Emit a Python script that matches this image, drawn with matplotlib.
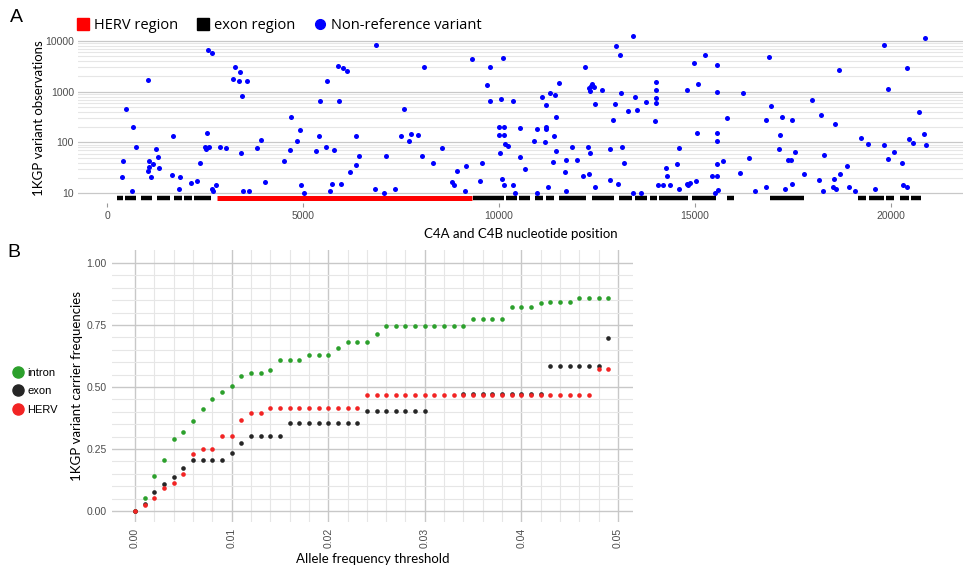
import numpy as np
import matplotlib
matplotlib.use("Agg")
import matplotlib.pyplot as plt
from matplotlib.patches import Patch
from matplotlib.lines import Line2D
from matplotlib.ticker import FixedLocator, NullFormatter

# ---- panel A data ----
herv_region = (2806, 9311)
exon_regions = [(247, 416), (459, 740), (859, 1156), (1267, 1607), (1717, 1921),
                (1972, 2176), (2219, 2644), (9324, 10124), (10175, 10463),
                (10514, 10787), (10914, 11126), (11211, 11398), (11534, 12223),
                (12376, 12937), (13072, 13405), (13464, 13763), (13847, 14018),
                (14085, 14825), (14934, 15530), (15818, 15989), (16925, 17783),
                (19158, 19371), (19431, 19814), (19882, 20077), (20222, 20460),
                (20502, 20757)]

var_pos = [2584, 2671, 3258, 3380, 1054, 3214, 3367, 3579, 477, 671, 1676, 2559, 747,
           1258, 2508, 2525, 2610, 2890, 3043, 400, 1301, 1079, 1181, 1079, 1038, 1319,
           2372, 390, 1122, 1658, 1862, 2150, 2296, 645, 1829, 2671, 2696, 2788, 3418,
           5901, 6013, 6115, 5620, 3436, 5426, 5926, 4686, 4916, 5416, 6352, 3929, 4839,
           3834, 4676, 5587, 5791, 5339, 6429, 4515, 6360, 6199, 4031, 4957, 5732, 5969,
           3477, 3615, 5018, 5681,
           6862, 9304, 10110, 8087, 9763, 9702, 9778, 10051, 7584, 10000, 10120, 10000,
           10135, 7492, 7763, 7926, 7712, 8554, 10153, 10222, 7110, 8028, 10018, 8324,
           9158, 9566, 8936, 10069, 8809, 8860, 9508, 10127, 6845, 7074, 7347, 9125,
           13426, 12977, 13079, 12194, 11538, 12380, 12347, 12303, 12314, 12416, 12635,
           11309, 11421, 13105, 11105, 13477, 10349, 11199, 12441, 12959, 13750, 13298,
           13513, 11454, 12916, 10543, 10969, 11199, 11191, 11411, 10893, 11181, 11862,
           12278, 13130, 12824, 11462, 12314, 10543, 11701, 11385, 11997, 13197, 10655,
           11676, 12296, 12150, 12839, 13028, 10357, 11242, 12449, 10416, 10977, 11717,
           13426, 13630,
           15263, 14982, 15569, 16895, 14013, 15069, 13997, 14788, 15561, 16224, 13997,
           14005, 16946, 15809, 16811, 13972, 15051, 15569, 15569, 14592, 17135, 16370,
           15714, 14533, 15561, 14252, 16148, 14293, 15434, 15569, 15018, 14788, 14880,
           14829, 14064, 14184, 14370, 14592, 16811, 16530, 15587, 15518,
           20860, 19814, 18681, 20400, 19931, 17985, 20722, 17212, 17474, 18214, 18571,
           17176, 20834, 19227, 20467, 20561, 19405, 19814, 20900, 17543, 20069, 18298,
           17380, 17449, 19923, 20280, 18885, 17773, 18699, 18163, 18553, 17474, 17296,
           18528, 18589, 18928, 19081, 18273, 19599, 20306, 20416]
var_obs = [6620, 5700, 3020, 2465, 1700, 1755, 1625, 1625, 462, 202, 132, 154, 80.5,
           73.5, 80.5, 75.5, 80.5, 82.7, 76.9, 42.7, 51.1, 43.8, 37.2, 33.4, 27.9, 31.9,
           39, 20.7, 20.7, 22.6, 20.7, 16.2, 17.5, 11.2, 12.3, 12.3, 11.2, 14.4, 63,
           3250, 2970, 2520, 1625, 811, 665, 647, 313, 179, 134, 134, 110, 107,
           79, 72.1, 81.5, 70.2, 68, 55, 43.2, 35.6, 26.6, 16.5, 14.4, 15.5, 15.5,
           11.2, 11.2, 10.1, 11.1,
           8300, 4345, 4670, 3020, 3020, 1355, 665, 718, 456, 202, 199, 139,
           139, 136, 149, 139, 108, 78, 94.7, 86.5, 53.5, 55, 62.1, 40,
           34, 40, 27.9, 19.4, 16.5, 14.4, 17.5, 14.4, 12.3, 10.3, 12.3, 11.2,
           12650, 7830, 5350, 3065, 1463, 1400, 1295, 1167, 1047, 1222, 1080,
           930, 861, 943, 797, 776, 656, 555, 565, 565, 619, 417,
           442, 318, 277, 193, 187, 199, 182, 136, 106, 102, 81.5,
           82.7, 80.5, 74.5, 67.1, 61.3, 51.8, 45.8, 41.9, 45.8, 40, 29.7,
           26.6, 23.7, 21.6, 18.5, 15.5, 14.4, 13.3, 13.3, 10.1, 10.1, 11.2,
           10.1, 10.1,
           5350, 3720, 3400, 4755, 1531, 1418, 1080, 1095, 973, 955, 752,
           600, 516, 304, 281, 269, 152, 156, 108, 79, 74.5, 48.9,
           43.8, 37.7, 37.7, 31.9, 24.8, 21.6, 22.2, 22.2, 17.5, 15.5, 16.2,
           14.4, 14.4, 14.4, 14.4, 12.2, 13.3, 11.2, 11.5, 10.1,
           11250, 8190, 2710, 2890, 1115, 696, 398, 313, 274, 343, 228,
           139, 149, 124, 116, 99, 92.2, 90.5, 90.5, 65, 64.1, 56,
           45.3, 45.3, 46.7, 39, 34.5, 23.7, 23.7, 18.3, 19.4, 15.5, 12.3,
           13.3, 12.3, 13.3, 11.2, 11.2, 12.3, 14.6, 13.3]

# ---- panel B data ----
thresholds = [i / 1000 for i in range(50)]
intron = [0, .052, .141, .206, .292, .318, .361, .413, .450, .481, .503, .543, .556,
          .556, .570, .609, .609, .609, .629, .629, .629, .658, .681, .681, .681, .713,
          .745, .745, .745, .745, .745, .745, .745, .745, .745, .775, .775, .775, .775,
          .823, .823, .823, .839, .842, .842, .842, .857, .857, .857, .857]
exon = [0, .028, .076, .110, .137, .172, .204, .204, .204, .204, .233, .276, .302,
        .302, .302, .302, .354, .354, .354, .354, .354, .354, .354, .354, .402, .402,
        .402, .402, .402, .402, .402, np.nan, np.nan, np.nan, .472, .472, .472, .472,
        .472, .472, .472, .472, .472, .584, .584, .584, .584, .584, .584, .698]
herv = [0, .024, .052, .091, .113, .151, .231, .251, .251, .302, .302, .366, .394,
        .394, .414, .414, .414, .414, .414, .414, .414, .414, .414, .414, .468, .468,
        .468, .468, .468, .468, .468, .468, .468, .468, .468, .468, .468, .468, .468,
        .468, .468, .468, .468, .468, .468, .468, .468, .468, .572, .572]

W, H = 963, 572
fig = plt.figure(figsize=(W / 100, H / 100), dpi=100)
fig.patch.set_facecolor("white")

label_font = ["Lato", "DejaVu Sans"]
tick_font = ["Liberation Sans", "DejaVu Sans"]
tick_col = "#4d4d4d"
major_grid = "#c8c8c8"
minor_grid = "#e6e6e6"


def rect(l, t, r, b):
    return [l / W, 1 - b / H, (r - l) / W, (b - t) / H]


# ================= panel A =================
ax = fig.add_axes(rect(78, 33, 963, 203))
for s in ax.spines.values():
    s.set_visible(False)
ax.set_yscale("log")
ax.set_xlim(-740, 21837)
ax.set_ylim(6.44, 14300)

ax.yaxis.set_major_locator(FixedLocator([10, 100, 1000, 10000]))
ax.set_yticklabels(["10", "100", "1000", "10000"])
minor = [m * 10 ** d for d in range(1, 4) for m in range(2, 10)]
ax.yaxis.set_minor_locator(FixedLocator(minor))
ax.yaxis.set_minor_formatter(NullFormatter())
ax.grid(True, axis="y", which="major", color=major_grid, lw=0.9)
ax.grid(True, axis="y", which="minor", color=minor_grid, lw=0.8)
ax.set_axisbelow(True)
ax.tick_params(axis="y", which="both", length=0, pad=3, labelsize=7.5, labelcolor=tick_col)
ax.set_xticks([0, 5000, 10000, 15000, 20000])
ax.tick_params(axis="x", length=3, color="#999999", pad=3, labelsize=7.5, labelcolor=tick_col)
for t in ax.get_xticklabels() + ax.get_yticklabels():
    t.set_family(tick_font)

bar_y = 8.07
ax.hlines([bar_y] * len(exon_regions), [a for a, b in exon_regions],
          [b for a, b in exon_regions], colors="black", lw=3.2, capstyle="butt", zorder=2)
ax.hlines(bar_y, herv_region[0], herv_region[1], colors="red", lw=3.6,
          capstyle="butt", zorder=2)
ax.scatter(var_pos, var_obs, s=13, color="#0000ff", linewidths=0, zorder=3)

ax.set_ylabel("1KGP variant observations", family=label_font, fontsize=9.5, labelpad=0)
ax.set_xlabel("C4A and C4B nucleotide position", family=label_font, fontsize=9.5,
              labelpad=5)

handles = [Patch(color="red"), Patch(color="black"),
           Line2D([], [], marker="o", ls="", color="#0000ff", ms=7)]
fig.legend(handles, ["HERV region", "exon region", "Non-reference variant"],
           loc="upper left", bbox_to_anchor=(64 / W, 1 - 5 / H), ncol=3,
           frameon=False, handlelength=0.8, handleheight=0.8, handletextpad=0.35,
           columnspacing=1.3, prop={"family": ["Open Sans", "DejaVu Sans"], "size": 10.5})

fig.text(10 / W, 1 - 18 / H, "A", fontsize=14, family=tick_font, va="center")
fig.text(7 / W, 1 - 252 / H, "B", fontsize=14, family=tick_font, va="center")

# ================= panel B =================
bx = fig.add_axes(rect(112, 250, 633, 522))
for s in bx.spines.values():
    s.set_visible(False)
bx.set_xlim(-0.00238, 0.05155)
bx.set_ylim(-0.044, 1.052)
bx.set_xticks([0, 0.01, 0.02, 0.03, 0.04, 0.05])
bx.set_xticklabels(["0.00", "0.01", "0.02", "0.03", "0.04", "0.05"], rotation=90)
bx.set_yticks([0, 0.25, 0.5, 0.75, 1.0])
bx.set_yticklabels(["0.00", "0.25", "0.50", "0.75", "1.00"])
bx.xaxis.set_minor_locator(FixedLocator([i * 0.002 for i in range(26)]))
bx.yaxis.set_minor_locator(FixedLocator([i * 0.05 for i in range(21)]))
bx.grid(True, which="major", color=major_grid, lw=1.0)
bx.grid(True, which="minor", color=minor_grid, lw=0.8)
bx.set_axisbelow(True)
bx.tick_params(which="both", length=0, labelsize=7.5, labelcolor=tick_col, pad=4)
for t in bx.get_xticklabels() + bx.get_yticklabels():
    t.set_family(tick_font)

bx.scatter(thresholds, intron, s=11, color="#2ca02c", linewidths=0, zorder=3)
bx.scatter(thresholds, exon, s=11, color="#262626", linewidths=0, zorder=3)
bx.scatter(thresholds, herv, s=11, color="#f22424", linewidths=0, zorder=3)

bx.set_ylabel("1KGP variant carrier frequencies", family=label_font, fontsize=9.5,
              labelpad=2)
bx.set_xlabel("Allele frequency threshold", family=label_font, fontsize=9.5, labelpad=4)

lh = [Line2D([], [], marker="o", ls="", color=c, ms=8)
      for c in ["#2ca02c", "#262626", "#f22424"]]
fig.legend(lh, ["intron", "exon", "HERV"], loc="upper left",
           bbox_to_anchor=(2 / W, 1 - 358 / H), frameon=False, handlelength=1.0,
           handletextpad=0.4, labelspacing=0.75,
           prop={"family": tick_font, "size": 8})

fig.savefig("out.png", dpi=100)
